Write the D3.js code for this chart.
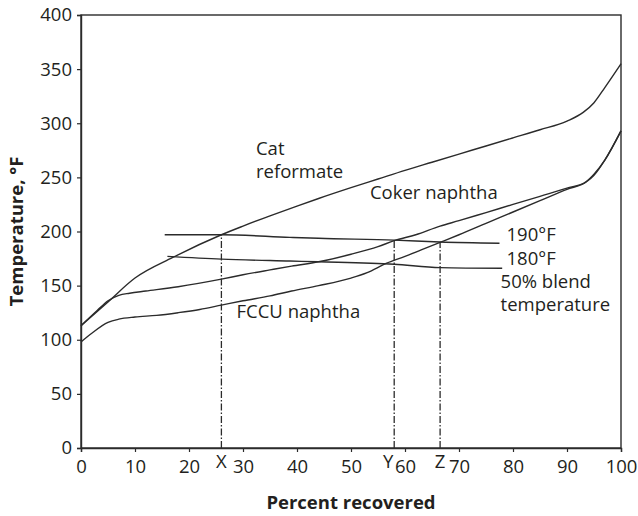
<!DOCTYPE html>
<html>
<head>
<meta charset="utf-8">
<script src="https://cdn.jsdelivr.net/npm/d3@7"></script>
<style>
  html, body { margin: 0; padding: 0; background: #fff; }
  svg { display: block; }
  text { font-family: "Open Sans", "Noto Sans", sans-serif; fill: #231f20; }
</style>
</head>
<body>
<svg id="chart" width="638" height="516"></svg>
<script>
// ---- Data ----
const xTicks = [0, 10, 20, 30, 40, 50, 60, 70, 80, 90, 100];
const yTicks = [0, 50, 100, 150, 200, 250, 300, 350, 400];

const catX   = [0, 5, 10, 17, 26, 30, 35, 40, 44, 50, 55, 60, 65, 70, 75, 80, 85, 90, 93, 95, 97, 100];
const catY   = [113, 135, 157, 176, 197, 205, 214.5, 223.5, 230.5, 240.5, 248.5, 256.5, 264, 271.5, 279, 286.5, 294, 302, 310, 319, 333, 355];

const cokerX = [0, 3, 5, 7, 9, 12, 18, 26, 30, 35, 39, 44, 50, 55, 58, 62, 66.5, 70, 75, 80, 85, 90, 93.5, 95, 97, 100];
const cokerY = [113, 127, 136, 141, 143, 145, 149, 156, 160, 164.5, 168, 172, 179, 186, 191.5, 197, 205, 210, 217.5, 225, 232.5, 240, 246, 253, 266, 293];

const fccuX  = [0, 2, 5, 7, 10, 14, 18, 22, 26, 30, 35, 39, 44, 50, 53, 56.5, 60, 63, 66.5, 70, 75, 80, 85, 90, 93.5, 95, 97, 100];
const fccuY  = [98, 106, 116, 119, 121, 122.5, 125, 128, 132, 136, 140.5, 145, 150, 157, 162, 170.5, 177, 183, 190, 197, 207.5, 218, 228.5, 239, 245.5, 252, 266, 293];

const line190X = [15.5, 26, 38.7, 44, 58, 66.5, 77.5];
const line190Y = [197, 197, 194.6, 193.7, 192, 190.3, 189.2];
const line180X = [16, 26, 38.7, 44, 58, 66.5, 78];
const line180Y = [177, 174.5, 172.7, 172, 169.7, 166.6, 166];

const dropNames = ["X", "Y", "Z"];
const dropX     = [26, 58, 66.5];
const dropTop   = [197, 192, 190];

// ---- Layout ----
const svg = d3.select("#chart");
const x = d3.scaleLinear().domain([0, 100]).range([81, 621]);
const y = d3.scaleLinear().domain([0, 400]).range([448, 15]);
const ink = "#2b2b2b";

// frame
svg.append("rect")
  .attr("x", x(0)).attr("y", y(400))
  .attr("width", x(100) - x(0)).attr("height", y(0) - y(400))
  .attr("fill", "none").attr("stroke", ink).attr("stroke-width", 1.4);

// axes
const fs = 18.5;
const yAxis = svg.append("g").attr("transform", `translate(${x(0)},0)`)
  .call(d3.axisLeft(y).tickValues(yTicks).tickSize(4).tickPadding(5).tickFormat(d3.format("d")));
const xAxis = svg.append("g").attr("transform", `translate(0,${y(0)})`)
  .call(d3.axisBottom(x).tickValues(xTicks).tickSize(4).tickPadding(8).tickFormat(d3.format("d")));
[xAxis, yAxis].forEach(g => {
  g.select(".domain").attr("stroke", ink).attr("stroke-width", 1.4);
  g.selectAll(".tick line").attr("stroke", ink).attr("stroke-width", 1.2);
  g.selectAll(".tick text").attr("font-size", fs).attr("fill", "#231f20")
    .style("font-family", '"Open Sans", sans-serif');
});

// curves
const gen = d3.line().x(d => x(d[0])).y(d => y(d[1])).curve(d3.curveMonotoneX);
const series = [[catX, catY], [cokerX, cokerY], [fccuX, fccuY], [line190X, line190Y], [line180X, line180Y]];
series.forEach(([xs, ys]) => {
  svg.append("path")
    .datum(xs.map((v, i) => [v, ys[i]]))
    .attr("d", gen)
    .attr("fill", "none").attr("stroke", ink).attr("stroke-width", 1.4);
});

// drop lines
dropX.forEach((v, i) => {
  svg.append("line")
    .attr("x1", x(v)).attr("x2", x(v))
    .attr("y1", y(0)).attr("y2", y(dropTop[i]))
    .attr("stroke", ink).attr("stroke-width", 1.3)
    .attr("stroke-dasharray", "7,2,1.5,2");
  svg.append("text")
    .attr("x", x(v) + (dropNames[i] === "Y" ? -6 : 0)).attr("y", y(0) + 20)
    .attr("text-anchor", "middle").attr("font-size", fs)
    .text(dropNames[i]);
});

// annotations (multi-line blocks as one text element each)
const blocks = [
  [["Cat", 32.4, 270.7], ["reformate", 32.4, 249.4]],
  [["Coker naphtha", 53.5, 230]],
  [["FCCU naphtha", 28.8, 120.4]],
  [["190°F", 78.8, 190.8], ["180°F", 78.8, 169.1], ["50% blend", 77.7, 147.8], ["temperature", 77.7, 126.6]]
];
blocks.forEach(lines => {
  const t = svg.append("text").attr("font-size", fs);
  lines.forEach(([s, ax, ay]) => {
    t.append("tspan").attr("x", x(ax)).attr("y", y(ay)).text(s);
  });
});

// axis titles
svg.append("text")
  .attr("x", (x(0) + x(100)) / 2).attr("y", 509)
  .attr("text-anchor", "middle").attr("font-size", 18.5).attr("font-weight", "bold")
  .text("Percent recovered");
svg.append("text")
  .attr("transform", `translate(23,${(y(0) + y(400)) / 2}) rotate(-90)`)
  .attr("text-anchor", "middle").attr("font-size", 18.5).attr("font-weight", "bold")
  .text("Temperature, °F");
</script>
</body>
</html>
